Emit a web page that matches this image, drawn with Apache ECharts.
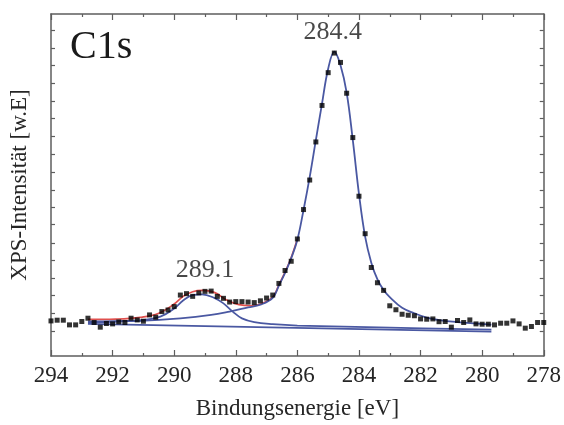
<!DOCTYPE html>
<html>
<head>
<meta charset="utf-8">
<script src="https://cdn.jsdelivr.net/npm/echarts@6/dist/echarts.min.js"></script>
<style>
html,body{margin:0;padding:0;background:#fff;}
#chart{width:564px;height:425px;}
</style>
</head>
<body>
<div id="chart"></div>
<script>
// Binding energies of measured points (eV)
const dotEnergy = [294.0,293.8,293.6,293.4,293.2,293.0,292.8,292.6,292.4,292.2,
  292.0,291.8,291.6,291.4,291.2,291.0,290.8,290.6,290.4,290.2,
  290.0,289.8,289.6,289.4,289.2,289.0,288.8,288.6,288.4,288.2,
  288.0,287.8,287.6,287.4,287.2,287.0,286.8,286.6,286.4,286.2,
  286.0,285.8,285.6,285.4,285.2,285.0,284.8,284.6,284.4,284.2,
  284.0,283.8,283.6,283.4,283.2,283.0,282.8,282.6,282.4,282.2,
  282.0,281.8,281.6,281.4,281.2,281.0,280.8,280.6,280.4,280.2,
  280.0,279.8,279.6,279.4,279.2,279.0,278.8,278.6,278.4,278.2,278.0];
// Measured intensity (arb. units)
const dotIntensity = [10.26,10.47,10.47,9.10,9.10,10.09,11.05,9.80,8.43,9.51,
  9.39,9.97,9.80,11.05,10.55,10.17,12.01,11.34,12.99,13.46,
  14.45,17.82,18.23,17.44,18.46,18.90,18.98,17.44,16.86,15.78,
  15.90,15.90,15.78,15.61,16.13,16.95,17.82,21.22,25.00,27.70,
  34.22,42.82,51.45,62.59,73.26,82.85,88.58,85.84,76.83,63.87,
  46.72,35.76,25.87,21.42,19.19,14.68,13.52,12.21,11.92,11.77,
  10.84,10.76,10.84,10.03,10.09,8.43,10.38,9.80,10.55,9.39,
  9.30,9.30,9.10,9.59,9.59,10.26,9.39,8.14,8.63,9.80,9.80];

// Fit envelope (red)
const envE = [292.8,291.9,291.1,290.5,290.0,289.7,289.4,289.1,288.7,288.3,287.9,287.5,287.2,286.8,286.6,286.4,286.2,286.0];
const envI = [10.7,10.8,11.3,12.5,15.2,17.5,18.8,19.2,18.6,16.4,15.0,14.7,15.2,17.2,20.8,24.5,28.8,34.2];

// Main component 284.4 (blue)
const mainE = [292.8,291.1,289.8,288.8,288.2,287.6,287.2,286.8,286.6,286.4,286.2,286.0,285.8,285.6,285.4,285.2,285.0,284.8,284.6,284.4,284.2,284.0,283.8,283.6,283.4,283.2,283.0,282.6,282.2,281.8,281.4,280.8,280.2,279.7];
const mainI = [10.1,10.3,11.0,12.0,13.0,14.2,15.0,17.0,20.6,24.3,28.6,34.0,42.7,52.3,63.1,73.8,84.0,89.0,85.0,77.0,63.1,47.4,34.9,27.3,22.4,19.3,17.2,14.1,12.5,11.2,10.5,9.9,9.5,9.2];

// Small component 289.1 (blue)
const smallE = [292.8,291.1,290.45,290.0,289.7,289.4,289.1,288.7,288.4,288.1,287.8,287.4,286.8,286.0,283.0,279.7];
const smallI = [9.8,10.4,11.5,13.9,16.3,17.8,18.0,17.0,15.4,13.0,11.0,9.9,9.3,8.9,8.3,7.7];

// Background (blue)
const bgE = [292.8,279.7];
const bgI = [9.4,7.1];

// x axis range / tick labels
const xMin = 278, xMax = 294, xStep = 2;
// y tick positions (unlabelled)
const yTicks = [7.3,12.5,17.7,22.7,27.9,33.1,38.4,43.6,48.6,53.8,59.0,64.2,69.5,74.4,79.7,84.9,90.1,95.3];

// annotations
const peakLabels = ['284.4','289.1'];
const peakLabelE = [284.85,289.0];
const peakLabelI = [94.8,25.0];

const zip = (a,b)=>a.map((v,i)=>[v,b[i]]);
const serif = '"Liberation Serif","DejaVu Serif",serif';
const axisCol = '#5e5e5e';
const textCol = '#262626';
const blue = '#4a58a2';
const red = '#e0504e';

const chart = echarts.init(document.getElementById('chart'), null, {renderer:'canvas'});

function xAx(pos, labels){
  return {
    type:'value', position:pos, min:xMin, max:xMax, interval:xStep, inverse:true,
    axisLine:{show:true, onZero:false, lineStyle:{color:axisCol, width:1.5}},
    axisTick:{show:true, inside:true, length:6, lineStyle:{color:axisCol, width:1.2}},
    minorTick:{show:true, splitNumber:2, length:3, lineStyle:{color:axisCol, width:1.2}},
    splitLine:{show:false}, minorSplitLine:{show:false},
    axisLabel:{show:labels, fontFamily:serif, fontSize:23, color:textCol, margin:8},
    name: labels ? 'Bindungsenergie [eV]' : '',
    nameLocation:'middle', nameGap:41,
    nameTextStyle:{fontFamily:serif, fontSize:23, color:textCol}
  };
}
function yAx(pos, withName){
  return {
    type:'value', position:pos, min:0, max:100,
    axisLine:{show:true, onZero:false, lineStyle:{color:axisCol, width:1.5}},
    axisTick:{show:true, inside:true, length:4, customValues:yTicks, lineStyle:{color:axisCol, width:1.2}},
    axisLabel:{show:false},
    splitLine:{show:false},
    name: withName ? 'XPS-Intensität [w.E]' : '',
    nameLocation:'middle', nameGap:20, nameRotate:90,
    nameTextStyle:{fontFamily:serif, fontSize:23, color:textCol}
  };
}

chart.setOption({
  animation:false,
  backgroundColor:'#fff',
  title:{text:'C1s', left:65, top:22, textStyle:{fontFamily:serif, fontSize:40, fontWeight:'normal', color:'#1a1a1a'}},
  grid:{left:50, right:18, top:14, bottom:67},
  xAxis:[xAx('bottom', true), xAx('top', false)],
  yAxis:[yAx('left', true), yAx('right', false)],
  series:[
    {type:'line', name:'bg', data:zip(bgE,bgI), showSymbol:false, smooth:false, lineStyle:{color:blue, width:1.7}, z:2},
    {type:'line', name:'env', data:zip(envE,envI), showSymbol:false, smooth:0.4, lineStyle:{color:red, width:1.7}, z:3},
    {type:'line', name:'small', data:zip(smallE,smallI), showSymbol:false, smooth:0.4, lineStyle:{color:blue, width:1.7}, z:4},
    {type:'line', name:'main', data:zip(mainE,mainI), showSymbol:false, smooth:0.4, lineStyle:{color:blue, width:1.8}, z:5},
    {type:'scatter', name:'data', data:zip(dotEnergy,dotIntensity), symbol:'rect', symbolSize:5, itemStyle:{color:'#000'}, z:6},
    {type:'scatter', name:'labels', data:peakLabels.map((t,i)=>({value:[peakLabelE[i],peakLabelI[i]], name:t})),
      symbolSize:0, silent:true,
      label:{show:true, position:'inside', formatter:p=>p.name, fontFamily:serif, fontSize:26, color:'#1a1a1a'}, z:7}
  ]
});
</script>
</body>
</html>
